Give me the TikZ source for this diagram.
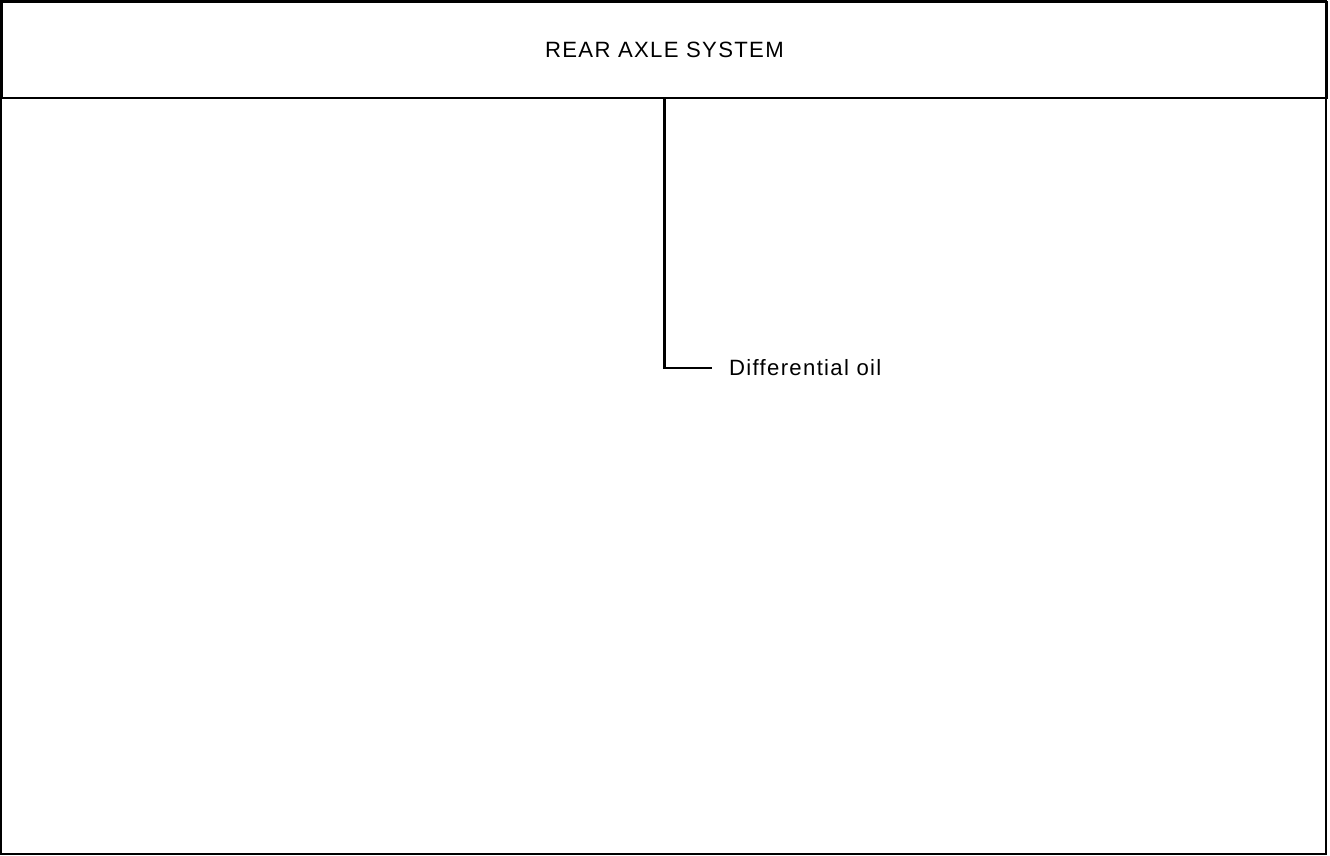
\documentclass[tikz,border=0pt]{standalone}
\usepackage{fontspec}
\newfontfamily\chartfont[LetterSpace=6]{Liberation Sans}
\usepackage{tikz}
\usetikzlibrary{positioning}

\begin{document}
\begin{tikzpicture}[x=0.02cm, y=-0.02cm, line width=1.2pt,
  head/.style={draw, minimum width=26.5cm, minimum height=1.92cm, inner sep=0pt,
    font=\chartfont\fontsize{12.6}{15}\selectfont},
  part/.style={inner xsep=0.32cm, font=\chartfont\fontsize{12.6}{15}\selectfont},
  lead/.style={line width=1.7pt}]
\useasboundingbox (0,0) rectangle (1330,856);
\draw (1,1) rectangle (1326,854);
\node[head, anchor=north west] (axle) at (1,1) {REAR AXLE SYSTEM};
\node[part, anchor=west] (oil) at (712,368) {Differential oil};
\draw[lead] (axle.south) |- (oil.west);
\end{tikzpicture}
\end{document}
